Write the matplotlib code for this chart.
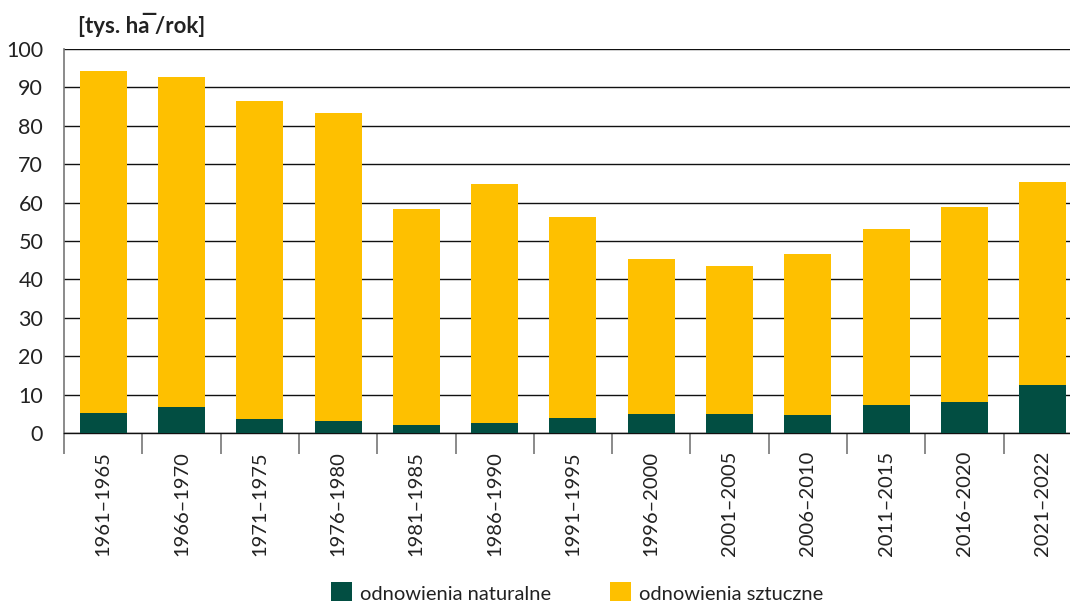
import matplotlib
matplotlib.use("Agg")
import matplotlib.pyplot as plt
import numpy as np

periods = ["1961–1965", "1966–1970", "1971–1975", "1976–1980", "1981–1985",
           "1986–1990", "1991–1995", "1996–2000", "2001–2005", "2006–2010",
           "2011–2015", "2016–2020", "2021–2022"]
natural = [5.2, 6.8, 3.7, 3.1, 2.1, 2.7, 3.8, 5.0, 5.0, 4.7, 7.4, 8.1, 12.5]
total = [94.3, 92.7, 86.5, 83.3, 58.3, 64.8, 56.3, 45.3, 43.5, 46.6, 53.1, 58.9, 65.4]
artificial = [t - n for t, n in zip(total, natural)]
y_ticks = [0, 10, 20, 30, 40, 50, 60, 70, 80, 90, 100]

GREEN = "#024E42"
YELLOW = "#FEC000"
TEXT = "#222222"

plt.rcParams["font.family"] = ["Lato", "DejaVu Sans"]

fig = plt.figure(figsize=(10.70, 6.01), dpi=100)
ax = fig.add_axes([64 / 1070, 1 - 433 / 601, 1 - 64 / 1070, (433 - 49) / 601])

x = np.arange(len(periods))
b1 = ax.bar(x, natural, width=0.6, color=GREEN, zorder=3, label="odnowienia naturalne")
b2 = ax.bar(x, artificial, bottom=natural, width=0.6, color=YELLOW, zorder=3,
            label="odnowienia sztuczne")

ax.set_yticks(y_ticks)
ax.set_yticklabels([str(v) for v in y_ticks], fontsize=15.5, color=TEXT)
ax.tick_params(axis="y", length=0, pad=15)
ax.grid(axis="y", color="#111111", linewidth=1.0, zorder=0)

# category labels between boundary ticks
ax.set_xticks(np.arange(len(periods) + 1) - 0.5)
ax.set_xticklabels([])
ax.set_xticks(x, minor=True)
ax.set_xticklabels(periods, minor=True, rotation=90, fontsize=14.5, color=TEXT)
ax.tick_params(axis="x", which="major", length=15, width=1.2, color="#777777")
ax.tick_params(axis="x", which="minor", length=0, pad=13)

ax.set_ylim(0, 100)
ax.set_xlim(-0.5, -0.5 + (1070 - 64) / 78.3)

for side in ("top", "right"):
    ax.spines[side].set_visible(False)
ax.spines["left"].set_color("#777777")
ax.spines["left"].set_linewidth(1.2)
ax.spines["bottom"].set_color("#111111")
ax.spines["bottom"].set_linewidth(1.0)

fig.text(78 / 1070, 1 - 25 / 601, "[tys. ha\u0305 /rok]", fontsize=16, fontweight="bold",
         color=TEXT, ha="left", va="center")

fig.legend(handles=[b1, b2], loc="lower center", bbox_to_anchor=(577 / 1070, -0.035),
           ncol=2, frameon=False, fontsize=14.5, handlelength=1.05, handleheight=1.3,
           handletextpad=0.4, columnspacing=2.9, labelcolor=TEXT)

fig.savefig("out.png", dpi=100)
